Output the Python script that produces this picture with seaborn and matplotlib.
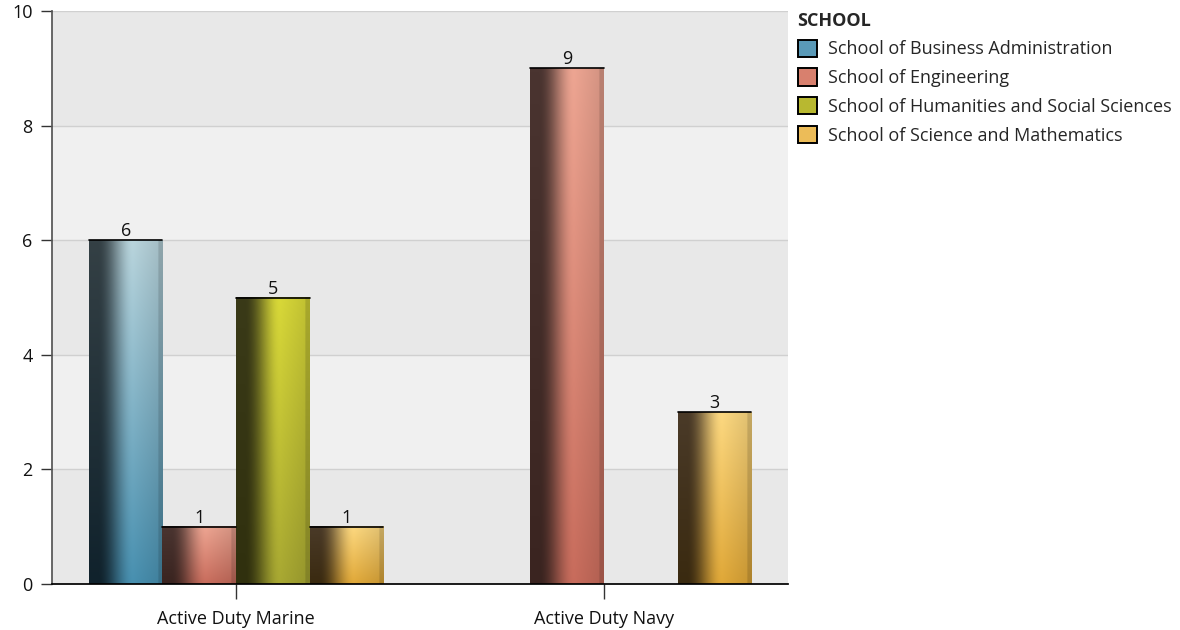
import numpy as np
import pandas as pd
import seaborn as sns
import matplotlib.pyplot as plt
from matplotlib.colors import to_rgb
from matplotlib.patches import Patch

# ---------------- data ----------------
categories = ["Active Duty Marine", "Active Duty Navy"]
schools = ["School of Business Administration", "School of Engineering",
           "School of Humanities and Social Sciences", "School of Science and Mathematics"]
marine_counts = [6, 1, 5, 1]
navy_counts = [0, 9, 0, 3]

# bar shading: (top light, bottom base, top dark edge, bottom dark edge)
school_colors = ["#5a9ab8", "#d8806e", "#b8b830", "#ecbc58"]
shade_top = ["#b8d4dc", "#eda592", "#d8d838", "#fcd880"]
shade_bottom = ["#4890b0", "#c86c5c", "#a8a832", "#e0a838"]
edge_top = ["#344045", "#4a3430", "#3a3a18", "#4a3a28"]
edge_bottom = ["#10222c", "#3a2420", "#30300e", "#3a2a10"]

rows = []
for cat, counts in zip(categories, [marine_counts, navy_counts]):
    for s, v in zip(schools, counts):
        if v > 0:
            rows.append({"category": cat, "school": s, "count": v})
df = pd.DataFrame(rows)

sns.set_theme(style="white")
plt.rcParams['font.family'] = ['Open Sans', 'DejaVu Sans']

fig = plt.figure(figsize=(11.8, 6.3), dpi=100)
ax = fig.add_axes([0.0441, 0.073, 0.6237, 0.9095])

# alternating bands
for i, lo in enumerate(range(0, 10, 2)):
    ax.axhspan(lo, lo + 2, color="#e8e8e8" if i % 2 == 0 else "#f0f0f0", zorder=0, lw=0)

sns.barplot(data=df, x="category", y="count", hue="school", hue_order=schools,
            order=categories, palette=school_colors, width=0.8, ax=ax,
            legend=False, zorder=2)


def gradient_img(k, nx=80, ny=60):
    mt, mb = np.array(to_rgb(shade_top[k])), np.array(to_rgb(shade_bottom[k]))
    et, eb = np.array(to_rgb(edge_top[k])), np.array(to_rgb(edge_bottom[k]))
    xs = np.linspace(0, 1, nx)
    img = np.zeros((ny, nx, 3))
    for j, yv in enumerate(np.linspace(1, 0, ny)):
        mid = mb + (mt - mb) * yv
        dark = eb + (et - eb) * yv
        for i, xv in enumerate(xs):
            if xv < 0.12:
                col = dark
            elif xv < 0.6:
                t = (xv - 0.12) / 0.48
                t = t * t * (3 - 2 * t)
                col = dark + (mid - dark) * t
            elif xv < 0.94:
                t = (xv - 0.6) / 0.34
                col = mid * (1 - 0.1 * t)
            else:
                col = mid * 0.78
            img[j, i] = col
    return np.clip(img, 0, 1)


for k, cont in enumerate(ax.containers):
    img = gradient_img(k)
    for p in cont.patches:
        h = p.get_height()
        if not np.isfinite(h) or h <= 0:
            continue
        x0, w = p.get_x(), p.get_width()
        p.set_visible(False)
        ax.imshow(img, extent=(x0, x0 + w, 0, h), aspect="auto", zorder=2,
                  interpolation="bilinear")
        ax.plot([x0, x0 + w], [h, h], color="black", lw=1.2, zorder=3)
        ax.text(x0 + w / 2, h, f"{int(h)}", ha="center", va="bottom",
                fontsize=13, color="#111111", zorder=4)

ax.set_xlim(-0.5, 1.5)
ax.set_ylim(0, 10)
ax.set_yticks(range(0, 11, 2))
ax.yaxis.grid(True, color="#d0d0d0", lw=1)
ax.set_axisbelow(True)
ax.set_xlabel("")
ax.set_ylabel("")
for side in ["top", "right"]:
    ax.spines[side].set_visible(False)
ax.spines["left"].set_color("#555555")
ax.spines["bottom"].set_color("black")
ax.tick_params(axis="y", left=True, length=8, width=1, color="#333333",
               labelsize=13, pad=6, labelcolor="#111111")
ax.tick_params(axis="x", bottom=True, length=11, width=1, color="#333333",
               labelsize=13, pad=8, labelcolor="#111111")

handles = [Patch(facecolor=c, edgecolor="black", lw=1.4) for c in school_colors]
leg = fig.legend(handles, schools, title="SCHOOL", loc="upper left",
                 bbox_to_anchor=(0.666, 1.0), frameon=False, fontsize=13,
                 title_fontsize=13, handlelength=1.1, handleheight=1.1,
                 handletextpad=0.6, labelspacing=0.55, alignment="left",
                 borderpad=0.15)
leg.get_title().set_fontweight("bold")

fig.savefig("out.png", dpi=100)
